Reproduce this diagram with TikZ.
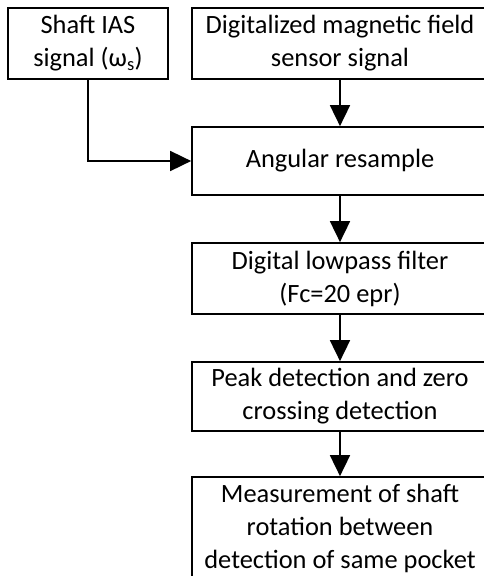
\documentclass[tikz,border=0pt]{standalone}
\usepackage{fontspec}
\setmainfont{Carlito}
\usetikzlibrary{arrows.meta}
\tikzstyle{block}=[rectangle, draw, line width=1.7pt, inner sep=0pt, align=center, font=\fontsize{26.4}{33}\selectfont]
\tikzstyle{arr}=[line width=1.7pt, -{Triangle[width=20pt,length=21pt]}]
\newcommand{\block}{\node[block]}

\begin{document}
\begin{tikzpicture}[x=1pt,y=-1pt]
\useasboundingbox (0,0) rectangle (484,576);
\block (sig) at (88,43.5)[minimum width=160pt, minimum height=71pt]{Shaft IAS\\signal (ω\textsubscript{s})};
\block (mag) at (340,43.5)[minimum width=296pt, minimum height=71pt]{Digitalized magnetic field\\sensor signal};
\block (res) at (340,161)[minimum width=296pt, minimum height=68pt]{Angular resample};
\block (lpf) at (340,278.5)[minimum width=296pt, minimum height=71pt]{Digital lowpass filter\\(Fc=20 epr)};
\block (peak) at (340,396.5)[minimum width=296pt, minimum height=69pt]{Peak detection and zero\\crossing detection};
\block (meas) at (340,528.5)[minimum width=296pt, minimum height=103pt]{Measurement of shaft\\rotation between\\detection of same pocket};
\draw[arr] (mag) -- (res);
\draw[arr] (sig.south) |- (res.west);
\draw[arr] (res) -- (lpf);
\draw[arr] (lpf) -- (peak);
\draw[arr] (peak) -- (meas);
\end{tikzpicture}
\end{document}
